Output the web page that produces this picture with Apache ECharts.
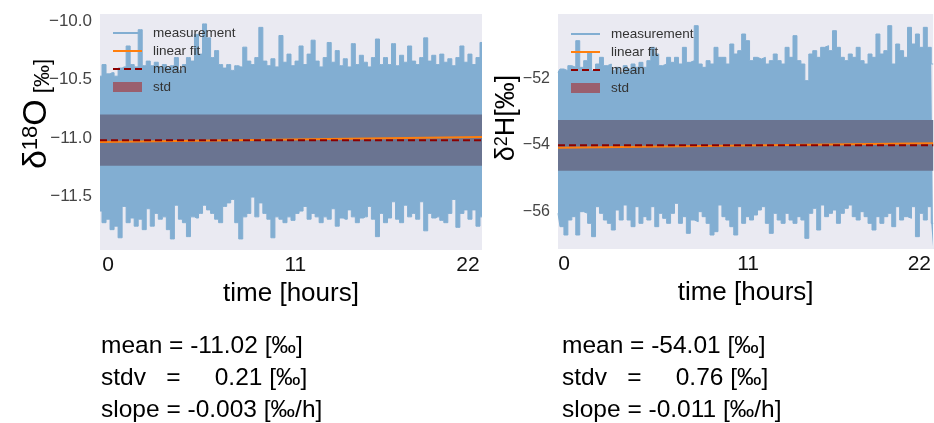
<!DOCTYPE html>
<html>
<head>
<meta charset="utf-8">
<script src="https://cdn.jsdelivr.net/npm/echarts@6/dist/echarts.min.js"></script>
<style>
  html, body { margin: 0; padding: 0; background: #fff; }
  #chart { width: 934px; height: 423px; }
</style>
</head>
<body>
<div id="chart"></div>
<script>
// δ18O panel: upper / lower envelope of the measurement, read column by column
const o18High = [
  -10.47,-10.37,-10.45,-10.44,-10.47,-10.40,-10.39,-10.21,-10.37,-10.39,
  -10.07,-10.38,-10.34,-10.38,-10.35,-10.39,-10.37,-10.40,-10.38,-10.31,
  -10.42,-10.37,-10.31,-10.34,-10.11,-10.28,-10.02,-10.14,-10.31,-10.25,
  -10.37,-10.40,-10.37,-10.42,-10.38,-10.39,-10.22,-10.34,-10.37,-10.31,
  -10.05,-10.34,-10.38,-10.32,-10.39,-10.12,-10.35,-10.28,-10.38,-10.34,
  -10.21,-10.37,-10.28,-10.16,-10.34,-10.39,-10.31,-10.18,-10.35,-10.25,
  -10.38,-10.32,-10.39,-10.19,-10.37,-10.29,-10.35,-10.39,-10.31,-10.15,
  -10.37,-10.31,-10.37,-10.19,-10.38,-10.29,-10.35,-10.21,-10.34,-10.37,
  -10.31,-10.14,-10.34,-10.29,-10.37,-10.28,-10.35,-10.32,-10.38,-10.31,
  -10.21,-10.35,-10.28,-10.37,-10.31,-10.18
];
const o18Low = [
  -11.63,-11.73,-11.70,-11.79,-11.76,-11.86,-11.59,-11.73,-11.69,-11.76,
  -11.70,-11.79,-11.61,-11.76,-11.65,-11.70,-11.68,-11.79,-11.87,-11.58,
  -11.70,-11.73,-11.85,-11.68,-11.69,-11.65,-11.58,-11.62,-11.65,-11.70,
  -11.73,-11.59,-11.56,-11.53,-11.73,-11.87,-11.68,-11.65,-11.51,-11.68,
  -11.56,-11.65,-11.70,-11.86,-11.68,-11.70,-11.73,-11.68,-11.71,-11.65,
  -11.63,-11.59,-11.70,-11.65,-11.68,-11.73,-11.68,-11.70,-11.61,-11.76,
  -11.69,-11.70,-11.62,-11.68,-11.73,-11.69,-11.68,-11.59,-11.70,-11.85,
  -11.65,-11.73,-11.69,-11.55,-11.70,-11.73,-11.58,-11.68,-11.65,-11.70,
  -11.55,-11.80,-11.65,-11.69,-11.68,-11.71,-11.73,-11.65,-11.53,-11.77,
  -11.65,-11.62,-11.70,-11.62,-11.76,-11.68
];
const o18Mean = -11.02;
const o18Band = [-10.80, -11.24];     // mean ± std
const o18Fit = [-11.037, -10.994];    // fit at start / end of record
const o18Stats = ['mean = -11.02 [‰]', 'stdv   =     0.21 [‰]', 'slope = -0.003 [‰/h]'];

// δ2H panel
const h2High = [
  -51.82,-51.72,-51.77,-51.62,-51.67,-50.87,-51.67,-51.47,-51.22,-51.77,
  -51.57,-51.37,-51.62,-51.57,-51.77,-51.67,-51.82,-51.62,-51.72,-51.57,
  -51.67,-51.52,-51.67,-51.47,-51.07,-51.27,-51.62,-51.57,-51.37,-51.52,
  -51.37,-51.57,-51.07,-51.52,-51.47,-50.42,-51.57,-51.67,-51.47,-51.57,
  -51.07,-51.37,-51.37,-51.57,-50.97,-51.27,-51.17,-50.67,-50.87,-51.47,
  -51.37,-51.42,-51.37,-51.57,-51.47,-51.27,-51.47,-51.57,-51.07,-51.37,
  -50.72,-51.47,-51.57,-52.07,-51.27,-51.17,-51.37,-51.07,-51.02,-51.17,
  -50.57,-51.07,-51.37,-51.47,-51.27,-51.37,-51.07,-51.47,-51.57,-51.27,
  -51.37,-50.67,-51.27,-51.17,-50.42,-51.57,-50.97,-51.17,-51.37,-50.47,
  -50.97,-50.67,-51.07,-50.47,-51.07,-51.57
];
const h2Low = [
  -56.05,-56.45,-56.70,-56.25,-56.15,-56.70,-56.00,-56.05,-56.35,-56.75,
  -55.85,-56.05,-56.25,-56.35,-56.55,-55.95,-56.25,-55.80,-56.25,-56.45,
  -55.85,-56.35,-56.15,-56.25,-55.85,-56.45,-56.05,-56.20,-56.35,-56.05,
  -55.75,-56.35,-56.15,-56.65,-56.25,-56.30,-56.00,-56.15,-56.35,-56.70,
  -56.60,-55.80,-56.15,-56.25,-56.45,-56.70,-55.85,-56.35,-56.15,-56.25,
  -56.10,-55.95,-55.85,-56.35,-56.65,-56.05,-56.25,-56.35,-56.05,-56.25,
  -56.35,-56.15,-56.25,-56.80,-56.05,-55.90,-56.55,-55.80,-56.15,-56.05,
  -55.95,-56.35,-56.05,-55.90,-55.80,-56.15,-56.25,-56.00,-56.15,-56.35,
  -56.55,-56.15,-56.35,-56.15,-56.05,-56.45,-55.85,-56.25,-56.15,-56.20,
  -55.85,-56.75,-56.05,-56.25,-55.85,-56.35
];
const h2Mean = -54.01;
const h2Band = [-53.25, -54.77];
const h2Fit = [-54.08, -53.95];
const h2Stats = ['mean = -54.01 [‰]', 'stdv   =     0.76 [‰]', 'slope = -0.011 [‰/h]'];

// time axis (hours)
const o18Span = [-0.49, 22.86];
const h2Span = [-0.37, 22.86];
const o18Ticks = [0, 11.45, 22];
const h2Ticks = [0, 11.4, 22];
const timeTickLabels = ['0', '11', '22'];
const o18YTicks = [-11.5, -11.0, -10.5, -10.0];
const h2YTicks = [-56, -54, -52];

const FONT = "'Liberation Sans', Arial, sans-serif";
const BG = '#EAEAF2';
const BLUE = '#82AED2';
const BAND = '#6A7491';
const ORANGE = '#FF7F0E';
const DARKRED = '#8B0000';

function sampleTimes(n, span) {
  const out = [];
  for (let i = 0; i < n; i++) out.push(span[0] + (span[1] - span[0]) * i / (n - 1));
  return out;
}
const zip = (xs, ys) => xs.map((x, i) => [x, ys[i]]);

function xAxisFor(idx, span, ticks) {
  return {
    type: 'value', gridIndex: idx, min: span[0], max: span[1],
    axisLine: { show: false }, axisTick: { show: false }, splitLine: { show: false },
    axisLabel: {
      customValues: ticks, fontSize: 21, color: '#111', fontFamily: FONT, margin: 5,
      formatter: v => timeTickLabels[ticks.findIndex(t => Math.abs(t - v) < 1e-6)]
    },
    name: 'time [hours]', nameLocation: 'middle', nameGap: 28,
    nameTextStyle: { fontSize: 26, color: '#000', fontFamily: FONT }
  };
}
function yAxisFor(idx, min, max, ticks, digits, size) {
  return {
    type: 'value', gridIndex: idx, min: min, max: max,
    axisLine: { show: false }, axisTick: { show: false }, splitLine: { show: false },
    axisLabel: {
      customValues: ticks, fontSize: size, color: '#444', fontFamily: FONT, margin: 8,
      formatter: v => (v < 0 ? '\u2212' : '') + Math.abs(v).toFixed(digits)
    }
  };
}
function panelSeries(idx, span, high, low, mean, band, fit) {
  const t = sampleTimes(high.length, span);
  const common = { xAxisIndex: idx, yAxisIndex: idx, type: 'line', symbol: 'none', silent: true, animation: false };
  return [
    // upper envelope, filled down to the axis
    Object.assign({}, common, {
      name: 'measurement', step: 'middle', z: 2,
      data: zip(t, high), lineStyle: { color: BLUE, width: 1 }, itemStyle: { color: BLUE },
      areaStyle: { color: BLUE, opacity: 1, origin: 'start' }
    }),
    // lower envelope, clears the area below it back to the panel colour
    Object.assign({}, common, {
      name: 'measurement', step: 'middle', z: 3,
      data: zip(t, low), lineStyle: { color: BLUE, width: 1 }, itemStyle: { color: BLUE },
      areaStyle: { color: BG, opacity: 1, origin: 'start' }
    }),
    Object.assign({}, common, {
      name: 'std', z: 4,
      data: zip(span, [band[0], band[0]]), lineStyle: { opacity: 0 },
      markArea: { silent: true, z: 4, itemStyle: { color: BAND }, data: [[{ yAxis: band[0] }, { yAxis: band[1] }]] }
    }),
    Object.assign({}, common, {
      name: 'linear fit', z: 5,
      data: zip(span, fit), lineStyle: { color: ORANGE, width: 2 }, itemStyle: { color: ORANGE }
    }),
    Object.assign({}, common, {
      name: 'mean', z: 6,
      data: zip(span, [mean, mean]), lineStyle: { color: DARKRED, width: 2, type: [7, 4] }, itemStyle: { color: DARKRED }
    })
  ];
}
function legendAt(left, top) {
  return {
    orient: 'vertical', left: left, top: top, selectedMode: false,
    itemWidth: 29, itemHeight: 10, itemGap: 4, padding: [3, 6],
    itemStyle: { opacity: 0 },
    textStyle: { fontSize: 13.5, color: '#333', fontFamily: FONT, padding: [0, 0, 0, 6] },
    data: [
      { name: 'measurement', lineStyle: { width: 2 } },
      { name: 'linear fit' },
      { name: 'mean' },
      { name: 'std', icon: 'rect', itemStyle: { color: '#9A5F6E', opacity: 1 } }
    ]
  };
}
function statsText(x, lines) {
  return lines.map((s, i) => ({
    type: 'text', x: x, y: 346 + i * 32,
    style: { text: s, font: '24.5px ' + FONT, fill: '#000', verticalAlign: 'middle' }
  }));
}

const chart = echarts.init(document.getElementById('chart'), null, { renderer: 'canvas' });
chart.setOption({
  animation: false,
  backgroundColor: '#fff',
  grid: [
    { left: 100, top: 14, width: 382, height: 236, show: true, backgroundColor: BG, borderWidth: 0 },
    { left: 558, top: 14, width: 376, height: 235, show: true, backgroundColor: BG, borderWidth: 0 }
  ],
  xAxis: [xAxisFor(0, o18Span, o18Ticks), xAxisFor(1, h2Span, h2Ticks)],
  yAxis: [
    yAxisFor(0, -11.965, -9.935, o18YTicks, 1, 17),
    yAxisFor(1, -57.12, -50.07, h2YTicks, 0, 16)
  ],
  legend: [legendAt(106, 23), legendAt(564, 24)],
  series: panelSeries(0, o18Span, o18High, o18Low, o18Mean, o18Band, o18Fit)
    .concat(panelSeries(1, h2Span, h2High, h2Low, h2Mean, h2Band, h2Fit)),
  graphic: [
    {
      type: 'text', x: 37, y: 114, rotation: Math.PI / 2,
      style: {
        text: '{a|δ}{s|18}{a|O}{b| [‰]}', align: 'center', verticalAlign: 'middle',
        rich: {
          a: { fontSize: 34, fontFamily: FONT, fill: '#000', verticalAlign: 'bottom' },
          s: { fontSize: 22, fontFamily: FONT, fill: '#000', verticalAlign: 'top' },
          b: { fontSize: 22, fontFamily: FONT, fill: '#000', verticalAlign: 'bottom' }
        }
      }
    },
    {
      type: 'text', x: 507, y: 118, rotation: Math.PI / 2,
      style: {
        text: '{a|δ}{s|2}{a|H[‰]}', align: 'center', verticalAlign: 'middle',
        rich: {
          a: { fontSize: 27, fontFamily: FONT, fill: '#000', verticalAlign: 'bottom' },
          s: { fontSize: 18, fontFamily: FONT, fill: '#000', verticalAlign: 'top' }
        }
      }
    }
  ].concat(statsText(101, o18Stats), statsText(562, h2Stats))
});
</script>
</body>
</html>
